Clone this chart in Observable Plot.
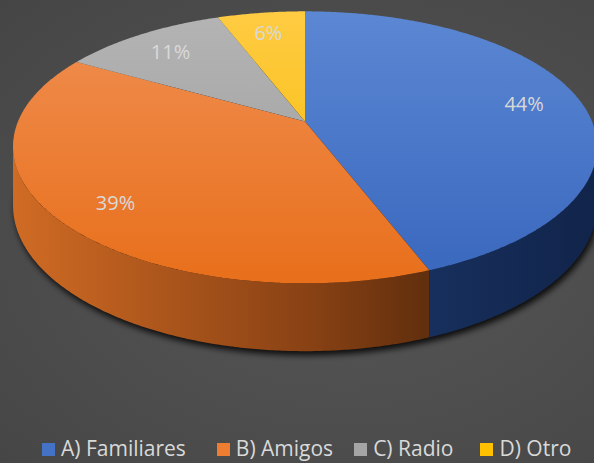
<!DOCTYPE html>
<html>
<head>
<meta charset="utf-8">
<script src="https://cdn.jsdelivr.net/npm/d3@7"></script>
<script src="https://cdn.jsdelivr.net/npm/@observablehq/plot@0.6"></script>
<style>
html, body { margin: 0; padding: 0; background: #4a4a4a; }
#chart {
  position: relative; width: 594px; height: 463px; overflow: hidden;
  background: radial-gradient(ellipse at 58% 52%, #565656 0%, #4f4f4f 45%, #454545 100%);
  font-family: "Open Sans", sans-serif;
}
#chart svg { display: block; background: transparent; }
#legend {
  position: absolute; left: 0; top: 425px; width: 594px; height: 36px;
  display: flex; justify-content: flex-start; align-items: center;
  padding-left: 42px; padding-top: 12px; box-sizing: border-box;
  color: #d9d9d9; font-size: 21px; line-height: 1.1;
}
#legend .item { display: flex; align-items: center; white-space: nowrap; }
#legend .item:nth-child(1) { margin-right: 31px; }
#legend .item:nth-child(2) { margin-right: 21px; }
#legend .item:nth-child(3) { margin-right: 27px; }
#legend .sw { width: 13px; height: 13px; margin-right: 6px; display: inline-block; }
</style>
</head>
<body>
<div id="chart"></div>
<script>
// ---- data ----
const categories = ["A) Familiares", "B) Amigos", "C) Radio", "D) Otro"];
const values = [44, 39, 11, 6];
const labels = ["44%", "39%", "11%", "6%"];
const legendColors = ["#4472C4", "#ED7D31", "#A5A5A5", "#FFC000"];
const topLight = ["#5B87D3", "#F08F52", "#B4B4B4", "#FFCB42"];
const topDark = ["#3967BD", "#E86F1B", "#9B9B9B", "#F4BA00"];
const wallStops = [
  ["#2A4E93", "#1D3A70", "#172F5C", "#11244A"],
  ["#D06B24", "#8A4214", "#5F2E0D", "#4A2309"],
  ["#8A8A8A", "#6A6A6A", "#555555", "#444444"],
  ["#C99500", "#9A7200", "#7A5A00", "#5E4500"]
];

// ---- geometry ----
const W = 594, H = 425;
const cx = 304.5, cy = 121, rx = 287, ry = 136, persp = 0.19, depth = 57;
const thetaL = 100.25, thetaR = 259.75; // silhouette angles of the front wall
const rad = d => d * Math.PI / 180;
function proj(theta, f = 1) {
  const t = rad(theta), s = 1 - persp * f * Math.cos(t);
  return [cx + rx * f * Math.sin(t) * s, cy - ry * f * Math.cos(t) * s];
}
function bottom(theta) {
  const [x, y] = proj(theta);
  return [x, y + depth * (1 - persp * Math.cos(rad(theta)))];
}
function arc(a0, a1, fn) {
  const n = Math.max(2, Math.ceil((a1 - a0) / 0.5));
  return d3.range(n + 1).map(i => fn(a0 + (a1 - a0) * i / n));
}

const total = d3.sum(values);
let acc = 0;
const slices = values.map((v, i) => {
  const a0 = acc / total * 360; acc += v;
  const a1 = acc / total * 360;
  return {i, a0, a1, mid: (a0 + a1) / 2};
});

// ---- defs (gradients, blur) ----
const defs = () => {
  const g = d3.create("svg:g");
  const d = g.append("defs");
  slices.forEach(s => {
    const lg = d.append("linearGradient").attr("id", "top" + s.i)
      .attr("gradientUnits", "userSpaceOnUse")
      .attr("x1", 0).attr("x2", 0).attr("y1", cy - ry * (1 - persp)).attr("y2", cy + ry * (1 + persp));
    lg.append("stop").attr("offset", 0).attr("stop-color", topLight[s.i]);
    lg.append("stop").attr("offset", 1).attr("stop-color", topDark[s.i]);
    const wg = d.append("linearGradient").attr("id", "wall" + s.i)
      .attr("gradientUnits", "userSpaceOnUse")
      .attr("x1", cx - rx * 1.017).attr("x2", cx + rx * 1.017).attr("y1", 0).attr("y2", 0);
    [0, 0.5, 0.72, 1].forEach((o, k) =>
      wg.append("stop").attr("offset", o).attr("stop-color", wallStops[s.i][k]));
  });
  const f = d.append("filter").attr("id", "shBlur").attr("x", "-10%").attr("y", "-10%").attr("width", "120%").attr("height", "130%");
  f.append("feGaussianBlur").attr("stdDeviation", 3);
  return g.node();
};

const marks = [defs];

// shadow under the cake
const shadowPts = arc(0, 360, t => { const [x, y] = bottom(t); return [x + 2, y + 4]; });
marks.push(Plot.line(shadowPts, {x: d => d[0], y: d => d[1], fill: "#010101", stroke: "none", fillOpacity: 0.85}));

// front walls
slices.forEach(s => {
  const a = Math.max(s.a0, thetaL), b = Math.min(s.a1, thetaR);
  if (b <= a) return;
  const pts = arc(a, b, t => proj(t)).concat(arc(a, b, t => bottom(t)).reverse());
  marks.push(Plot.line(pts, {x: d => d[0], y: d => d[1], fill: `url(#wall${s.i})`, stroke: "none"}));
});

// top faces
slices.forEach(s => {
  const pts = [[cx, cy]].concat(arc(s.a0, s.a1, t => proj(t)), [[cx, cy]]);
  marks.push(Plot.line(pts, {x: d => d[0], y: d => d[1], fill: `url(#top${s.i})`, stroke: "none"}));
});

// labels
const labelData = slices.map(s => {
  const [x, y] = proj(s.mid, 0.8);
  return {x, y: y + 3, text: labels[s.i]};
});
marks.push(Plot.text(labelData, {x: "x", y: "y", text: "text", fill: "#d9d9d9", fontSize: 20, fontFamily: "Open Sans", textAnchor: "middle"}));

const svg = Plot.plot({
  width: W, height: H, margin: 0,
  x: {domain: [0, W], range: [0, W], axis: null},
  y: {domain: [0, H], range: [0, H], axis: null},
  style: {background: "transparent", overflow: "visible"},
  marks
});
svg.querySelectorAll('g[fill="#010101"]').forEach(g => g.setAttribute("filter", "url(#shBlur)"));

const chart = document.getElementById("chart");
chart.appendChild(svg);

// legend
const legend = d3.select(chart).append("div").attr("id", "legend");
categories.forEach((c, i) => {
  const it = legend.append("span").attr("class", "item");
  it.append("span").attr("class", "sw").style("background", legendColors[i]);
  it.append("span").text(c);
});
</script>
</body>
</html>
